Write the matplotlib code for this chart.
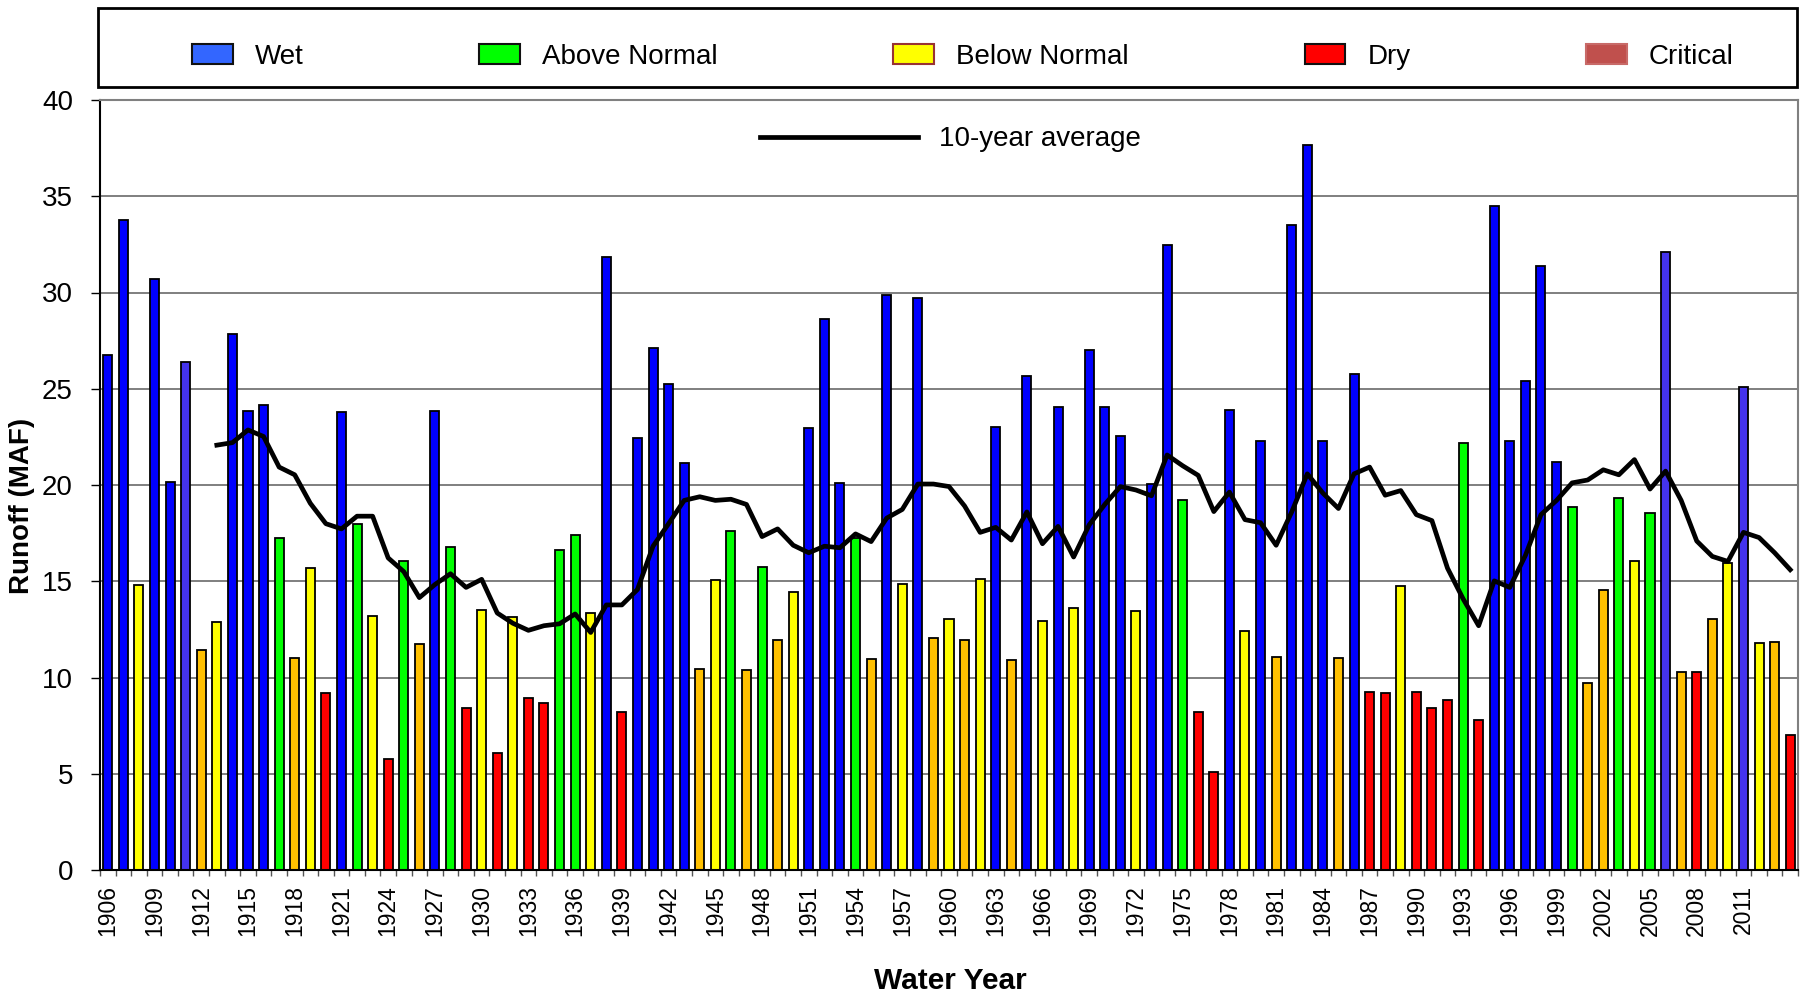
import matplotlib
matplotlib.use("Agg")
import matplotlib.pyplot as plt
from matplotlib.patches import Patch, Rectangle
from matplotlib.lines import Line2D
import numpy as np

plt.rcParams['font.family'] = ['Liberation Sans', 'DejaVu Sans']

# water years and unimpaired runoff (MAF)
years = list(range(1906, 2015))
runoff = [
    26.73, 33.75, 14.78, 30.70, 20.13, 26.41, 11.42, 12.87, 27.84, 23.87,
    24.16, 17.25, 11.02, 15.68, 9.22, 23.81, 17.99, 13.19, 5.75, 16.03,
    11.76, 23.84, 16.79, 8.42, 13.51, 6.09, 13.14, 8.95, 8.66, 16.61,
    17.38, 13.35, 31.84, 8.19, 22.44, 27.10, 25.25, 21.14, 10.44, 15.07,
    17.62, 10.41, 15.74, 11.97, 14.44, 22.97, 28.61, 20.08, 17.27, 10.97,
    29.88, 14.86, 29.72, 12.03, 13.03, 11.95, 15.10, 22.99, 10.89, 25.67,
    12.95, 24.05, 13.62, 26.99, 24.05, 22.57, 13.43, 20.05, 32.48, 19.23,
    8.19, 5.09, 23.89, 12.40, 22.30, 11.07, 33.51, 37.64, 22.30, 11.02,
    25.75, 9.25, 9.19, 14.75, 9.25, 8.42, 8.85, 22.17, 7.79, 34.49,
    22.28, 25.40, 31.39, 21.19, 18.86, 9.72, 14.57, 19.31, 16.03, 18.52,
    32.08, 10.28, 10.28, 13.03, 15.97, 25.11, 11.81, 11.84, 6.99,
]
# bar colour class per year (B wet, P wet-light, G, Y, O, R)
year_class = list(
    "BBYBBPOYBBBGOYRBGYRGOBGRYRYRRGGYBRBBBBOYGOGOYBBBGOBYBOYOYBOBYBYBBBYBBGRRBYBOBBBOBRRYRRRGRBBBBBGOOGYGPOROYPYOR"
)
class_colors = {
    'B': '#0000ff', 'P': '#4433ee', 'G': '#00ff00',
    'Y': '#ffff00', 'O': '#ffc000', 'R': '#ff0000',
}
tick_years = list(range(1906, 2012, 3))

# 10-year average, starting 1913
avg_start = 1913
avg_10yr = [
    22.07, 22.2, 22.86, 22.52, 20.93, 20.53, 19.05, 17.99, 17.72, 18.38,
    18.38, 16.21, 15.5, 14.15, 14.83, 15.39, 14.68, 15.1, 13.35, 12.82,
    12.45, 12.69, 12.79, 13.3, 12.34, 13.77, 13.77, 14.57, 16.82, 17.99,
    19.2, 19.39, 19.2, 19.26, 18.99, 17.32, 17.72, 16.87, 16.48, 16.82,
    16.74, 17.46, 17.06, 18.28, 18.73, 20.05, 20.05, 19.92, 18.91, 17.54,
    17.8, 17.14, 18.6, 16.95, 17.85, 16.26, 17.93, 18.99, 19.92, 19.74,
    19.44, 21.56, 21.0, 20.5, 18.62, 19.63, 18.2, 18.04, 16.87, 18.6,
    20.58, 19.58, 18.78, 20.58, 20.93, 19.47, 19.71, 18.46, 18.15, 15.68,
    14.09, 12.69, 15.02, 14.68, 16.34, 18.46, 19.2, 20.11, 20.26, 20.79,
    20.53, 21.32, 19.79, 20.72, 19.2, 17.09, 16.29, 16.03, 17.54, 17.27,
    16.48, 15.6,
]
avg_years = list(range(avg_start, avg_start + len(avg_10yr)))

legend_labels = ['Wet', 'Above Normal', 'Below Normal', 'Dry', 'Critical']
legend_colors = ['#3366ff', '#00ff00', '#ffff00', '#ff0000', '#c0504d']
legend_edges = ['#111111', '#111111', '#993333', '#111111', '#c86a68']

fig = plt.figure(figsize=(18, 9.94), dpi=100)
ax = fig.add_axes([100 / 1800, 1 - 870 / 994, 1698 / 1800, 770 / 994])

ax.set_axisbelow(True)
ax.grid(axis='y', color='#6a6a6a', linewidth=1.2)
ax.bar(years, runoff, width=0.58,
       color=[class_colors[c] for c in year_class],
       edgecolor='black', linewidth=1.3, zorder=2)
ax.plot(avg_years, avg_10yr, color='black', linewidth=3.4, zorder=3)

ax.set_ylim(0, 40)
ax.set_yticks(np.arange(0, 41, 5))
ax.set_xlim(years[0] - 0.43, years[0] + 108.42)
ax.set_xticks(tick_years)
ax.set_xticklabels([str(y) for y in tick_years], rotation=90)
ax.set_xticks([y + 0.5 for y in [years[0] - 1] + years], minor=True)
ax.tick_params(axis='x', which='major', length=0, pad=11, labelsize=16.5)
ax.tick_params(axis='x', which='minor', length=4.5, width=1, color='#555555')
ax.tick_params(axis='y', length=6.5, width=1, pad=13, labelsize=20)

for side in ['top', 'right']:
    ax.spines[side].set_color('#808080')
    ax.spines[side].set_linewidth(1.5)
for side in ['left', 'bottom']:
    ax.spines[side].set_linewidth(1.5)

ax.set_ylabel('Runoff (MAF)', fontsize=20, fontweight='bold')
ax.yaxis.set_label_coords(-0.038, 0.473)
ax.set_xlabel('Water Year', fontsize=21.5, fontweight='bold')
ax.xaxis.set_label_coords(0.5006, -0.1266)

# 10-year average legend inside the plot
avg_handle = Line2D([], [], color='black', linewidth=3.4)
ax.legend([avg_handle], ['10-year average'], loc='center left',
          bbox_to_anchor=(660 / 1698, 0.949), frameon=False, fontsize=20,
          handlelength=5.7, handletextpad=0.75, borderpad=0, borderaxespad=0)

# water-year-type legend box above the plot
fig.patches.append(Rectangle((98 / 1800, 1 - 87 / 994), 1699 / 1800, 79 / 994,
                             transform=fig.transFigure, fill=False,
                             edgecolor='black', linewidth=2))
handles = [Patch(facecolor=c, edgecolor=e, linewidth=1.5)
           for c, e in zip(legend_colors, legend_edges)]
fig.legend(handles, legend_labels, loc='center', ncol=5, mode='expand',
           bbox_to_anchor=(192 / 1800, 1 - 77 / 994, 1542 / 1800, 40 / 994),
           frameon=False, fontsize=20, handlelength=1.46, handleheight=0.75,
           handletextpad=0.8, borderpad=0, borderaxespad=0)

fig.savefig('out.png', dpi=100)
